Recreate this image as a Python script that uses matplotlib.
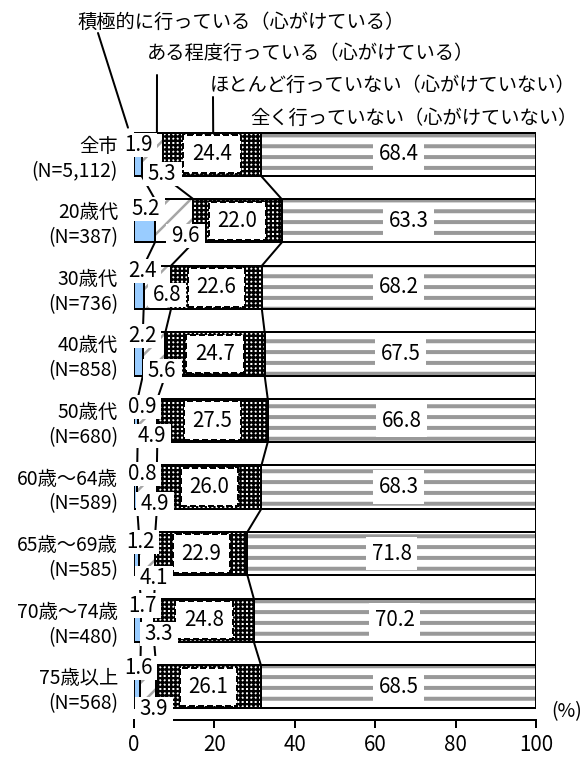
import numpy as np
import matplotlib
matplotlib.use('Agg')
import matplotlib.pyplot as plt
from matplotlib.path import Path

plt.rcParams['font.family'] = ['Noto Sans CJK JP', 'DejaVu Sans']

# ---------------- data ----------------
categories = ['全市', '20歳代', '30歳代', '40歳代', '50歳代',
              '60歳～64歳', '65歳～69歳', '70歳～74歳', '75歳以上']
n_labels = ['(N=5,112)', '(N=387)', '(N=736)', '(N=858)', '(N=680)',
            '(N=589)', '(N=585)', '(N=480)', '(N=568)']
series_names = ['積極的に行っている（心がけている）',
                'ある程度行っている（心がけている）',
                'ほとんど行っていない（心がけていない）',
                '全く行っていない（心がけていない）']
active = [1.9, 5.2, 2.4, 2.2, 0.9, 0.8, 1.2, 1.7, 1.6]
somewhat = [5.3, 9.6, 6.8, 5.6, 4.9, 4.9, 4.1, 3.3, 3.9]
rarely = [24.4, 22.0, 22.6, 24.7, 27.5, 26.0, 22.9, 24.8, 26.1]
never = [68.4, 63.3, 68.2, 67.5, 66.8, 68.3, 71.8, 70.2, 68.5]
xticks = [0, 20, 40, 60, 80, 100]

# ---------------- style / layout ----------------
DPI = 130
W, H = 582, 760


def px(v):
    return v * 72 / DPI


FS = px(19.3)      # Japanese text
FS_NUM = px(20.5)  # numeric labels
FS_TICK = px(20.5)
LW = px(2)
BAR_H = 0.65

# manual placement of the small-value labels (x in %, y offset in rows)
lab1_x = [1.0, 3.0, 2.0, 2.0, 2.0, 2.0, 1.5, 2.0, 1.0]
lab1_dy = [-0.14, -0.18, -0.25, -0.27, -0.20, -0.20, -0.17, -0.22, -0.28]
lab2_x = [7.0, 12.9, 8.2, 7.0, 4.5, 5.2, 5.0, 6.2, 5.0]
lab2_dy = [0.30, 0.23, 0.12, 0.25, 0.23, 0.25, 0.37, 0.21, 0.33]

styles = [
    dict(face='#99CCFF', hatch=None, hcolor=None, hlw=0),
    dict(face='white', hatch='//', hcolor='#A6A6A6', hlw=px(2.5)),
    dict(face='white', hatch='+++++', hcolor='black', hlw=px(2.3)),
    dict(face='white', hatch='--', hcolor='#999999', hlw=px(4)),
]


def padded_box(padx, pady):
    def f(x0, y0, width, height, mutation_size):
        dx = padx * mutation_size
        dy = pady * mutation_size
        return Path([(x0 - dx, y0 - dy), (x0 + width + dx, y0 - dy),
                     (x0 + width + dx, y0 + height + dy),
                     (x0 - dx, y0 + height + dy), (x0 - dx, y0 - dy)],
                    closed=True)
    return f


fig = plt.figure(figsize=(W / DPI, H / DPI), dpi=DPI)
ax = fig.add_axes([134 / W, 1 - 720 / H, (536 - 134) / W, (720 - 121) / H])

vals = np.array([active, somewhat, rarely, never], dtype=float).T
pct = vals / vals.sum(axis=1, keepdims=True) * 100
right = np.cumsum(pct, axis=1)
left = right - pct
y = np.arange(len(categories))

for k, st in enumerate(styles):
    if st['hatch']:
        bars = ax.barh(y, pct[:, k], left=left[:, k], height=BAR_H,
                       color=st['face'], edgecolor=st['hcolor'], linewidth=0,
                       hatch=st['hatch'], zorder=1)
        for b in bars:
            if hasattr(b, 'set_hatch_linewidth'):
                b.set_hatch_linewidth(st['hlw'])
    else:
        ax.barh(y, pct[:, k], left=left[:, k], height=BAR_H,
                color=st['face'], linewidth=0, zorder=1)
    ax.barh(y, pct[:, k], left=left[:, k], height=BAR_H, fill=False,
            edgecolor='black', linewidth=LW, zorder=2)

# series lines
for k in range(4):
    for i in range(len(y) - 1):
        ax.plot([right[i, k], right[i + 1, k]],
                [y[i] + BAR_H / 2, y[i + 1] - BAR_H / 2],
                color='black', lw=LW, zorder=1.5, solid_capstyle='butt')

# data labels
for i in range(len(y)):
    ax.text(left[i, 2] + pct[i, 2] / 2, y[i], f'{rarely[i]:.1f}',
            ha='center', va='center', fontsize=FS_NUM, zorder=6,
            bbox=dict(boxstyle=padded_box(0.42, 0.4), fc='white', ec='black',
                      lw=LW, ls=(0, (3, 1.5))))
    ax.text(left[i, 3] + pct[i, 3] / 2, y[i], f'{never[i]:.1f}',
            ha='center', va='center', fontsize=FS_NUM, zorder=6,
            bbox=dict(boxstyle=padded_box(0.27, 0.28), fc='white', ec='none'))
    ax.text(lab1_x[i], y[i] + lab1_dy[i], f'{active[i]:.1f}',
            ha='center', va='center', fontsize=FS_NUM, zorder=6,
            bbox=dict(boxstyle=padded_box(0.25, 0.05), fc='white', ec='none'))
    ax.text(lab2_x[i], y[i] + lab2_dy[i], f'{somewhat[i]:.1f}',
            ha='center', va='center', fontsize=FS_NUM, zorder=6,
            bbox=dict(boxstyle=padded_box(0.25, 0.05), fc='white', ec='none'))

ax.set_xlim(0, 100)
ax.set_ylim(len(y) - 0.5, -0.5)
ax.set_xticks(xticks)
ax.set_yticks(y, [f'{c}\n{n}' for c, n in zip(categories, n_labels)])
for t in ax.get_yticklabels():
    t.set_linespacing(1.25)
ax.tick_params(axis='y', length=0, pad=px(16), labelsize=FS)
ax.tick_params(axis='x', length=px(8), width=LW, direction='out',
               pad=px(6), labelsize=FS_TICK)
for s in ['left', 'top', 'right']:
    ax.spines[s].set_visible(False)
ax.spines['bottom'].set_linewidth(LW)

fig.text(1.0, 1 - 712 / H, '(%)', ha='right', va='center', fontsize=FS)

# series headers with leader lines
hdr_pos = [(78, 22), (147, 53), (210, 85), (250, 118)]
for name, (hx, hy) in zip(series_names, hdr_pos):
    fig.text(hx / W, 1 - hy / H, name, ha='left', va='center', fontsize=FS)

leaders = [((98, 33), (-1.5, -0.40)), ((157, 75), (5.7, -BAR_H / 2)),
           ((213, 97), (19.7, -BAR_H / 2))]
for (sx, sy), xy in leaders:
    ax.annotate('', xy=xy, xycoords='data', xytext=(sx, H - sy),
                textcoords='figure pixels', annotation_clip=False,
                arrowprops=dict(arrowstyle='-', color='black', lw=LW,
                                shrinkA=0, shrinkB=0))

fig.savefig('out.png', dpi=DPI)
